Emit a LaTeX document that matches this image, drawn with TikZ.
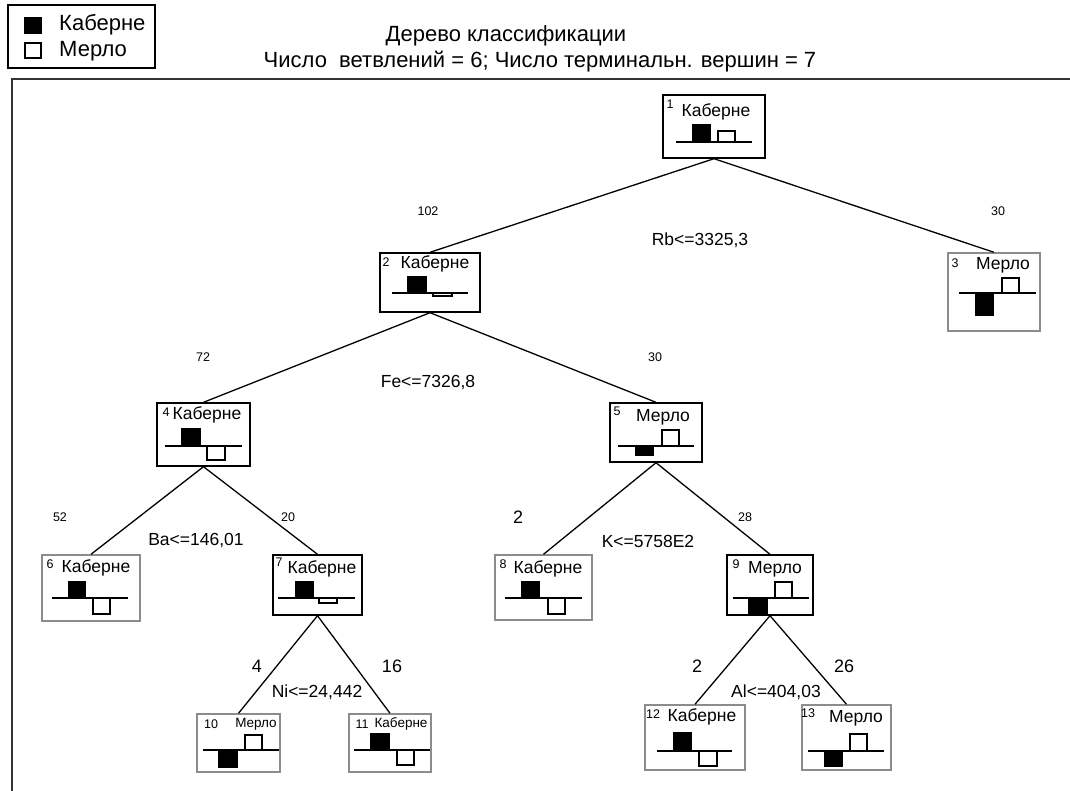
\documentclass[tikz,border=0pt]{standalone}
\usepackage{fontspec}
\setmainfont{Liberation Sans}
\newcommand{\fs}[1]{\fontsize{#1}{#1}\selectfont}
\tikzset{
  internal/.style={draw=black, line width=1.4pt, minimum width=#1, inner sep=0pt},
  terminal/.style={draw=black!45, line width=1.4pt, minimum width=#1, inner sep=0pt},
  edge/.style={line width=1.3pt},
  hbase/.style={line width=1.3pt},
  fbar/.style={fill=black, draw=black, line width=1.1pt},
  ebar/.style={fill=white, draw=black, line width=1.1pt},
  num/.style={inner sep=0pt, font=\fs{12.5}},
  cls/.style={inner sep=0pt, font=\fs{17.5}},
  elab/.style={inner sep=0pt, font=\fs{12.5}},
  elabbig/.style={inner sep=0pt, font=\fs{18}},
  split/.style={inner sep=0pt, font=\fs{17.5}},
}
% histogram: base y, x-left, x-right, filled x1,x2,yend, empty x1,x2,yend
\newcommand{\hist}[9]{%
  \draw[fbar] (#4,#1) rectangle (#5,#6);
  \draw[ebar] (#7,#1) rectangle (#8,#9);
  \draw[hbase] (#2,#1) -- (#3,#1);
}
\begin{document}
\begin{tikzpicture}[x=1pt,y=-1pt]
\useasboundingbox (0,0) rectangle (1070,791);
\fill[white] (0,0) rectangle (1070,791);

% legend
\node[draw=black, line width=1.2pt, minimum width=147pt, minimum height=63pt, inner sep=0pt] (legend) at (81.5,36.5) {};
\draw[fbar] (25,18) rectangle (41,33);
\draw[ebar] (25,43) rectangle (41,58);
\node[anchor=west, inner sep=0pt, font=\fs{22}] (lk) at (59,25) {Каберне};
\node[anchor=west, inner sep=0pt, font=\fs{22}] (lm) at (59,51) {Мерло};

% title
\node[inner sep=0pt, font=\fs{22}] (t1) at (506,36) {Дерево классификации};
\node[inner sep=0pt, font=\fs{22}] (t2) at (540,62) {Число\ \ ветвлений = 6; Число терминальн. вершин = 7};

% frame
\draw[line width=1.2pt, black!80] (12,791) -- (12,79) -- (1070,79);

% nodes
\node[internal=102pt, minimum height=63pt] (n1) at (714,126.5) {};
\node[internal=100pt, minimum height=59pt] (n2) at (430,282.5) {};
\node[terminal=92pt, minimum height=78pt] (n3) at (994,292) {};
\node[internal=93pt, minimum height=63pt] (n4) at (203.5,434.5) {};
\node[internal=92pt, minimum height=59pt] (n5) at (656,432.5) {};
\node[terminal=98pt, minimum height=66pt] (n6) at (91,588) {};
\node[internal=89pt, minimum height=60pt] (n7) at (317.5,585) {};
\node[terminal=97pt, minimum height=65pt] (n8) at (543.5,587.5) {};
\node[internal=86pt, minimum height=60pt] (n9) at (770,585) {};
\node[terminal=83pt, minimum height=58pt] (n10) at (238.5,743) {};
\node[terminal=82pt, minimum height=58pt] (n11) at (390,743) {};
\node[terminal=100pt, minimum height=65pt] (n12) at (695,737.5) {};
\node[terminal=89pt, minimum height=65pt] (n13) at (846.5,737.5) {};

% node labels
\node[num] (l1n) at (670,104) {1};   \node[cls] (l1) at (716,112) {Каберне};
\node[num] (l2n) at (386,262) {2};   \node[cls] (l2) at (435,264) {Каберне};
\node[num] (l3n) at (955,263) {3};   \node[cls] (l3) at (1003,265) {Мерло};
\node[num] (l4n) at (166,412) {4};   \node[cls] (l4) at (207,415) {Каберне};
\node[num] (l5n) at (617,411) {5};   \node[cls] (l5) at (663,417) {Мерло};
\node[num] (l6n) at (50,564) {6};    \node[cls] (l6) at (96,568) {Каберне};
\node[num] (l7n) at (279,562) {7};   \node[cls] (l7) at (322,569) {Каберне};
\node[num] (l8n) at (503,564) {8};   \node[cls] (l8) at (548,569) {Каберне};
\node[num] (l9n) at (736,564) {9};   \node[cls] (l9) at (775,569) {Мерло};
\node[num] (l10n) at (211,724) {10}; \node[inner sep=0pt, font=\fs{13.5}] (l10) at (256,724) {Мерло};
\node[num] (l11n) at (362,724) {11}; \node[inner sep=0pt, font=\fs{13.5}] (l11) at (401,724) {Каберне};
\node[num] (l12n) at (653,714) {12}; \node[cls] (l12) at (702,717) {Каберне};
\node[num] (l13n) at (808,713) {13}; \node[cls] (l13) at (856,718) {Мерло};

% histograms
\hist{142}{676}{752}{693}{710}{125}{718}{735}{131}
\hist{293}{392}{468}{408}{426}{277}{433}{452}{296}
\hist{293}{959}{1036}{976}{993}{315}{1002}{1019}{278}
\hist{446}{165}{242}{182}{200}{429}{207}{225}{460}
\hist{446}{618}{694}{636}{653}{455}{662}{679}{430}
\hist{598}{52}{128}{69}{85}{582}{93}{110}{614}
\hist{598}{278}{355}{296}{313}{582}{319}{337}{603}
\hist{598}{505}{582}{522}{539}{582}{548}{565}{614}
\hist{598}{733}{809}{749}{767}{613}{775}{792}{582}
\hist{750}{203}{279}{219}{237}{767}{245}{262}{735}
\hist{750}{354}{430}{371}{389}{734}{397}{414}{765}
\hist{751}{657}{732}{674}{691}{733}{699}{717}{766}
\hist{751}{808}{884}{825}{842}{766}{850}{867}{734}

% edges
\draw[edge] (n1.south) -- (n2.north);
\draw[edge] (n1.south) -- (n3.north);
\draw[edge] (n2.south) -- (n4.north);
\draw[edge] (n2.south) -- (n5.north);
\draw[edge] (n4.south) -- (n6.north);
\draw[edge] (n4.south) -- (n7.north);
\draw[edge] (n5.south) -- (n8.north);
\draw[edge] (n5.south) -- (n9.north);
\draw[edge] (n7.south) -- (n10.north);
\draw[edge] (n7.south) -- (n11.north);
\draw[edge] (n9.south) -- (n12.north);
\draw[edge] (n9.south) -- (n13.north);

% edge labels
\node[elab] (c2) at (428,211) {102};
\node[elab] (c3) at (998,211) {30};
\node[split] (s1) at (700,240) {Rb<=3325,3};
\node[elab] (c4) at (203,357) {72};
\node[elab] (c5) at (655,357) {30};
\node[split] (s2) at (428,383) {Fe<=7326,8};
\node[elab] (c6) at (60,517) {52};
\node[elab] (c7) at (288,517) {20};
\node[split] (s4) at (196,541) {Ba<=146,01};
\node[elabbig] (c8) at (518,517) {2};
\node[elab] (c9) at (745,517) {28};
\node[split] (s5) at (648,541) {K<=5758E2};
\node[elabbig] (c10) at (257,666) {4};
\node[elabbig] (c11) at (392,666) {16};
\node[split] (s7) at (317,692) {Ni<=24,442};
\node[elabbig] (c12) at (697,666) {2};
\node[elabbig] (c13) at (844,666) {26};
\node[split] (s9) at (776,692) {Al<=404,03};
\end{tikzpicture}
\end{document}
